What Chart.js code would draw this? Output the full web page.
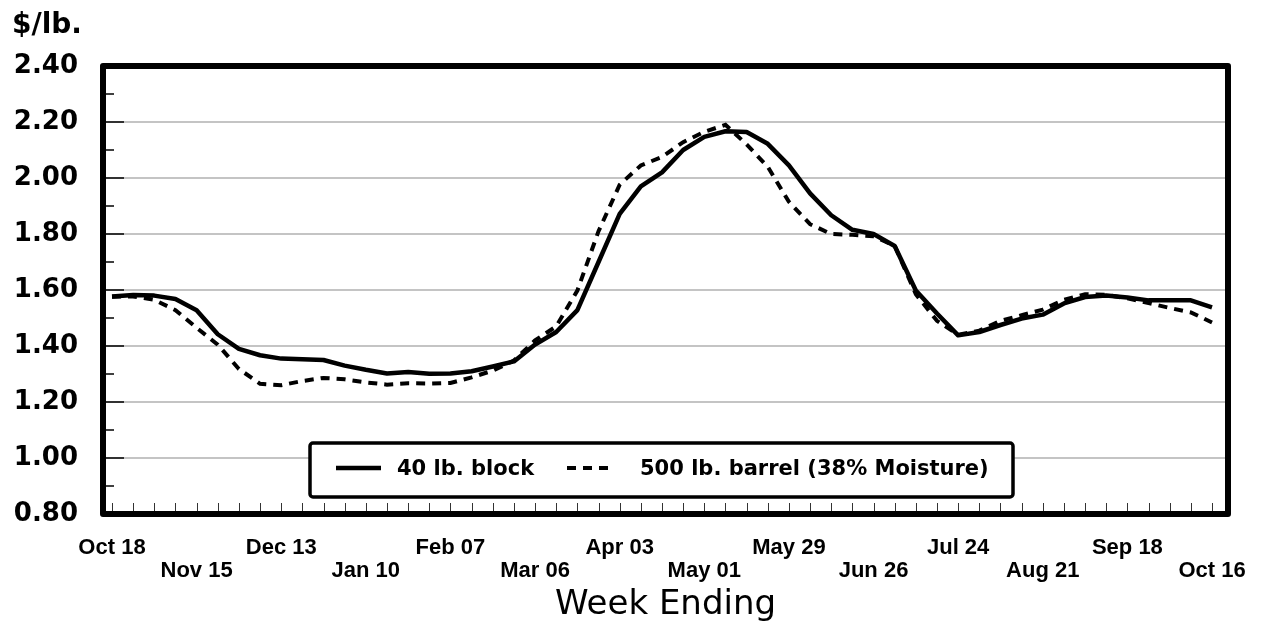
<!DOCTYPE html>
<html lang="en">
<head>
<meta charset="UTF-8">
<title>Cheese Prices by Week</title>
<script src="https://cdn.jsdelivr.net/npm/chart.js"></script>
<style>
  body { margin: 0; background: #fff; }
</style>
</head>
<body>

<canvas id="priceChart" width="1265" height="621"></canvas>

<script>
    // weekly prices, $/lb., week ending Oct 18 through Oct 16 (53 weeks)
    const block40 = [
        1.577, 1.582, 1.580, 1.568, 1.528, 1.442, 1.390, 1.367, 1.355, 1.353,
        1.350, 1.330, 1.315, 1.302, 1.307, 1.301, 1.302, 1.310, 1.327, 1.345,
        1.405, 1.450, 1.528, 1.700, 1.872, 1.970, 2.020, 2.100, 2.147, 2.167,
        2.164, 2.122, 2.045, 1.945, 1.867, 1.815, 1.800, 1.757, 1.598, 1.516,
        1.438, 1.450, 1.475, 1.498, 1.512, 1.552, 1.575, 1.580, 1.573, 1.563,
        1.563, 1.563, 1.538
    ];
    const barrel500 = [
        1.576, 1.577, 1.565, 1.528, 1.465, 1.405, 1.318, 1.265, 1.260, 1.275,
        1.286, 1.281, 1.270, 1.262, 1.267, 1.266, 1.268, 1.288, 1.312, 1.348,
        1.420, 1.470, 1.598, 1.810, 1.976, 2.045, 2.075, 2.128, 2.165, 2.190,
        2.120, 2.040, 1.915, 1.835, 1.800, 1.797, 1.792, 1.758, 1.585, 1.490,
        1.440, 1.455, 1.490, 1.510, 1.530, 1.565, 1.585, 1.583, 1.570, 1.553,
        1.536, 1.520, 1.484
    ];
    // one label every 4 weeks
    const tickLabels = [
        'Oct 18', 'Nov 15', 'Dec 13', 'Jan 10', 'Feb 07', 'Mar 06', 'Apr 03',
        'May 01', 'May 29', 'Jun 26', 'Jul 24', 'Aug 21', 'Sep 18', 'Oct 16'
    ];
    const seriesNames = ['40 lb. block', '500 lb. barrel (38% Moisture)'];

    Chart.defaults.font.family = '"DejaVu Sans", sans-serif';
    Chart.defaults.color = '#000';

    const toPoints = arr => arr.map((v, i) => ({ x: i, y: v }));

    // frame, tick marks, legend box and unit label
    const decorations = {
        id: 'decorations',
        beforeDatasetsDraw(chart) {
            const { ctx, chartArea: a, scales: { x, y } } = chart;
            ctx.save();
            ctx.strokeStyle = '#000';
            ctx.lineWidth = 1.5;
            for (let v = 8; v <= 24; v++) {
                const py = Math.round(y.getPixelForValue(v / 10));
                const len = v % 2 === 0 ? 21 : 11;
                ctx.beginPath();
                ctx.moveTo(a.left, py);
                ctx.lineTo(a.left + len, py);
                ctx.stroke();
            }
            ctx.strokeStyle = '#333';
            ctx.lineWidth = 1;
            for (let i = 0; i < block40.length; i++) {
                const px = Math.round(x.getPixelForValue(i)) + 0.5;
                ctx.beginPath();
                ctx.moveTo(px, a.bottom);
                ctx.lineTo(px, a.bottom - 11);
                ctx.stroke();
            }
            ctx.restore();
        },
        afterDatasetsDraw(chart) {
            const { ctx, chartArea: a } = chart;
            ctx.save();
            ctx.strokeStyle = '#000';
            ctx.lineWidth = 6;
            ctx.lineJoin = 'round';
            ctx.strokeRect(a.left, a.top, a.right - a.left, a.bottom - a.top);
            ctx.restore();
        },
        afterDraw(chart) {
            const ctx = chart.ctx;
            ctx.save();
            ctx.fillStyle = '#000';
            ctx.font = 'bold 28px "DejaVu Sans"';
            ctx.textBaseline = 'alphabetic';
            ctx.fillText('$/lb.', 12, 33);

            // legend
            const boxX = 310, boxY = 443, boxW = 703, boxH = 54;
            ctx.fillStyle = '#fff';
            ctx.strokeStyle = '#000';
            ctx.lineWidth = 3.5;
            ctx.beginPath();
            ctx.roundRect(boxX, boxY, boxW, boxH, 3);
            ctx.fill();
            ctx.stroke();
            const midY = boxY + boxH / 2;
            const spots = [{ line: 336, text: 397 }, { line: 567, text: 640 }];
            chart.data.datasets.forEach((ds, k) => {
                ctx.beginPath();
                ctx.lineWidth = ds.borderWidth;
                ctx.setLineDash(ds.borderDash || []);
                ctx.moveTo(spots[k].line, midY - 2);
                ctx.lineTo(spots[k].line + 45, midY - 2);
                ctx.stroke();
                ctx.setLineDash([]);
                ctx.fillStyle = '#000';
                ctx.font = 'bold 21px "DejaVu Sans"';
                ctx.textBaseline = 'middle';
                ctx.textAlign = 'left';
                ctx.fillText(ds.label, spots[k].text, midY);
            });
            ctx.restore();
        }
    };

    const ctx = document.getElementById('priceChart').getContext('2d');

    new Chart(ctx, {
        type: 'line',
        data: {
            datasets: [{
                label: seriesNames[0],
                data: toPoints(block40),
                borderColor: '#000',
                borderWidth: 4.5,
                borderJoinStyle: 'round',
                pointRadius: 0,
                tension: 0,
                fill: false
            }, {
                label: seriesNames[1],
                data: toPoints(barrel500),
                borderColor: '#000',
                borderWidth: 4,
                borderDash: [9, 7],
                pointRadius: 0,
                tension: 0,
                fill: false
            }]
        },
        options: {
            responsive: false,
            animation: false,
            layout: { padding: { top: 66, right: 37, left: 0, bottom: 0 } },
            plugins: {
                legend: { display: false },
                tooltip: { enabled: false }
            },
            scales: {
                x: {
                    type: 'linear',
                    min: -0.425,
                    max: 52.756,
                    afterBuildTicks: scale => {
                        scale.ticks = tickLabels.map((t, i) => ({ value: i * 4 }));
                    },
                    afterFit: scale => {
                        scale.height = 107;
                        scale.paddingLeft = 0;
                        scale.paddingRight = 0;
                    },
                    grid: { display: false, drawTicks: false },
                    border: { display: false },
                    ticks: {
                        autoSkip: false,
                        maxRotation: 0,
                        padding: 22,
                        font: { family: '"Liberation Sans", Arial, sans-serif', size: 22, weight: 'bold', lineHeight: 1.05 },
                        callback: value => {
                            const i = Math.round(value / 4);
                            return i % 2 === 0 ? [tickLabels[i], ''] : ['', tickLabels[i]];
                        }
                    },
                    title: {
                        display: true,
                        text: 'Week Ending',
                        font: { size: 34, lineHeight: 0.92 },
                        padding: { top: 0, bottom: 0 }
                    }
                },
                y: {
                    min: 0.8,
                    max: 2.4,
                    afterFit: scale => { scale.width = 103; },
                    grid: { color: '#c4c4c4', lineWidth: 2, drawTicks: false },
                    border: { display: false },
                    ticks: {
                        stepSize: 0.2,
                        padding: 25,
                        font: { size: 26, weight: 'bold' },
                        callback: value => value.toFixed(2)
                    }
                }
            }
        },
        plugins: [decorations]
    });
</script>

</body>
</html>
